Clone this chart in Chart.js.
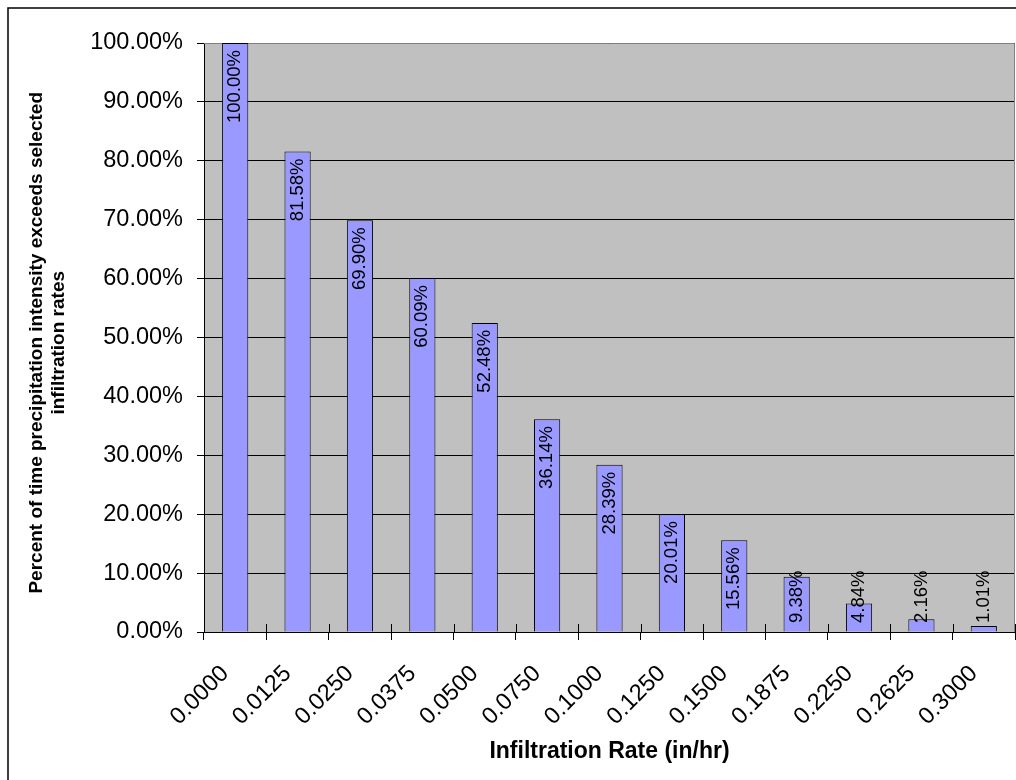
<!DOCTYPE html>
<html>
<head>
<meta charset="utf-8">
<script src="https://cdn.jsdelivr.net/npm/chart.js@4/dist/chart.umd.min.js"></script>
<style>
  html, body { margin: 0; padding: 0; background: #ffffff; }
  #wrap { width: 1016px; height: 780px; }
</style>
</head>
<body>
<div id="wrap"><canvas id="chart" width="1016" height="780"></canvas></div>
<script>
// Infiltration rate categories (in/hr)
const rateLabels = ['0.0000', '0.0125', '0.0250', '0.0375', '0.0500', '0.0750', '0.1000',
                    '0.1250', '0.1500', '0.1875', '0.2250', '0.2625', '0.3000'];
// Percent of time precipitation intensity exceeds each infiltration rate
const exceedPercent = [100.00, 81.58, 69.90, 60.09, 52.48, 36.14, 28.39, 20.01, 15.56, 9.38, 4.84, 2.16, 1.01];
// Value axis range and step (percent)
const yAxisMin = 0;
const yAxisMax = 100;
const yAxisStep = 10;

const xTitle = 'Infiltration Rate (in/hr)';
// trailing spaces nudge the centred, rotated title slightly downward
const yTitle = ['Percent of time precipitation intensity exceeds selected  ', 'infiltration rates  '];

const FONT = "Arial, 'Liberation Sans', sans-serif";
const pctText = v => v.toFixed(2) + '%';

// Page frame, grey plot area and its outline, cross tick marks on the category axis
const frameAndPlotArea = {
  id: 'frameAndPlotArea',
  beforeDraw(chart) {
    const { ctx, chartArea: a, width, height } = chart;
    ctx.save();
    ctx.fillStyle = '#ffffff';
    ctx.fillRect(0, 0, width, height);
    ctx.strokeStyle = '#000000';
    ctx.lineWidth = 1.5;
    ctx.strokeRect(8, 8, width + 40, height + 40);
    ctx.fillStyle = '#c0c0c0';
    ctx.fillRect(a.left, a.top, a.right - a.left, a.bottom - a.top);
    ctx.restore();
  },
  beforeDatasetsDraw(chart) {
    const { ctx, chartArea: a } = chart;
    const xs = chart.scales.x;
    ctx.save();
    // outline on the top and right of the plot area
    ctx.strokeStyle = '#808080';
    ctx.lineWidth = 1;
    ctx.beginPath();
    ctx.moveTo(a.left, a.top + 0.5);
    ctx.lineTo(a.right - 0.5, a.top + 0.5);
    ctx.lineTo(a.right - 0.5, a.bottom);
    ctx.stroke();
    // inner half of the category-axis tick marks
    ctx.strokeStyle = '#000000';
    ctx.beginPath();
    for (let i = 0; i <= rateLabels.length; i++) {
      const px = Math.round(xs.getPixelForValue(i - 0.5)) + 0.5;
      ctx.moveTo(px, a.bottom - 8);
      ctx.lineTo(px, a.bottom);
    }
    ctx.stroke();
    ctx.restore();
  }
};

// Vertical value labels at the inside end of each bar
const barValueLabels = {
  id: 'barValueLabels',
  afterDatasetsDraw(chart) {
    const { ctx, chartArea: a } = chart;
    const meta = chart.getDatasetMeta(0);
    const values = chart.data.datasets[0].data;
    ctx.save();
    ctx.font = '18.5px ' + FONT;
    ctx.fillStyle = '#000000';
    ctx.textAlign = 'right';
    ctx.textBaseline = 'middle';
    meta.data.forEach((bar, i) => {
      const text = pctText(values[i]);
      const len = ctx.measureText(text).width;
      const endY = Math.min(bar.y + 7, a.bottom - 9 - len);
      ctx.save();
      ctx.translate(bar.x, endY);
      ctx.rotate(-Math.PI / 2);
      ctx.fillText(text, 0, 0);
      ctx.restore();
    });
    ctx.restore();
  }
};

new Chart(document.getElementById('chart'), {
  type: 'bar',
  data: {
    labels: rateLabels,
    datasets: [{
      data: exceedPercent,
      backgroundColor: '#9999ff',
      borderColor: '#000000',
      borderWidth: 1,
      barPercentage: 0.42,
      categoryPercentage: 1.0
    }]
  },
  options: {
    responsive: false,
    animation: false,
    devicePixelRatio: 1,
    layout: { padding: { left: 0, top: 43, right: 1, bottom: 0 } },
    plugins: {
      legend: { display: false },
      title: { display: false },
      tooltip: { enabled: false }
    },
    scales: {
      x: {
        offset: true,
        grid: {
          offset: true,
          drawOnChartArea: false,
          drawTicks: true,
          tickLength: 8,
          color: '#000000',
          lineWidth: 1
        },
        border: { display: true, color: '#000000', width: 1 },
        ticks: {
          autoSkip: false,
          minRotation: 45,
          maxRotation: 45,
          padding: 20,
          labelOffset: -10,
          color: '#000000',
          font: { family: FONT, size: 23.5 }
        },
        title: {
          display: true,
          text: xTitle,
          color: '#000000',
          font: { family: FONT, size: 23, weight: 'bold' },
          padding: { top: 0, bottom: 15 }
        },
        afterFit(scale) {
          scale.height = 148;
          scale.paddingLeft = 0;
          scale.paddingRight = 0;
        }
      },
      y: {
        min: yAxisMin,
        max: yAxisMax,
        grid: {
          color: '#000000',
          lineWidth: 1,
          drawTicks: true,
          tickLength: 7
        },
        border: { display: true, color: '#000000', width: 1 },
        ticks: {
          stepSize: yAxisStep,
          padding: 14,
          color: '#000000',
          font: { family: FONT, size: 23.5 },
          callback: v => pctText(v)
        },
        title: {
          display: true,
          text: yTitle,
          color: '#000000',
          font: { family: FONT, size: 19, weight: 'bold', lineHeight: 1.2 },
          padding: { top: 25, bottom: 0 }
        },
        afterFit(scale) { scale.width = 204; }
      }
    }
  },
  plugins: [frameAndPlotArea, barValueLabels]
});
</script>
</body>
</html>
